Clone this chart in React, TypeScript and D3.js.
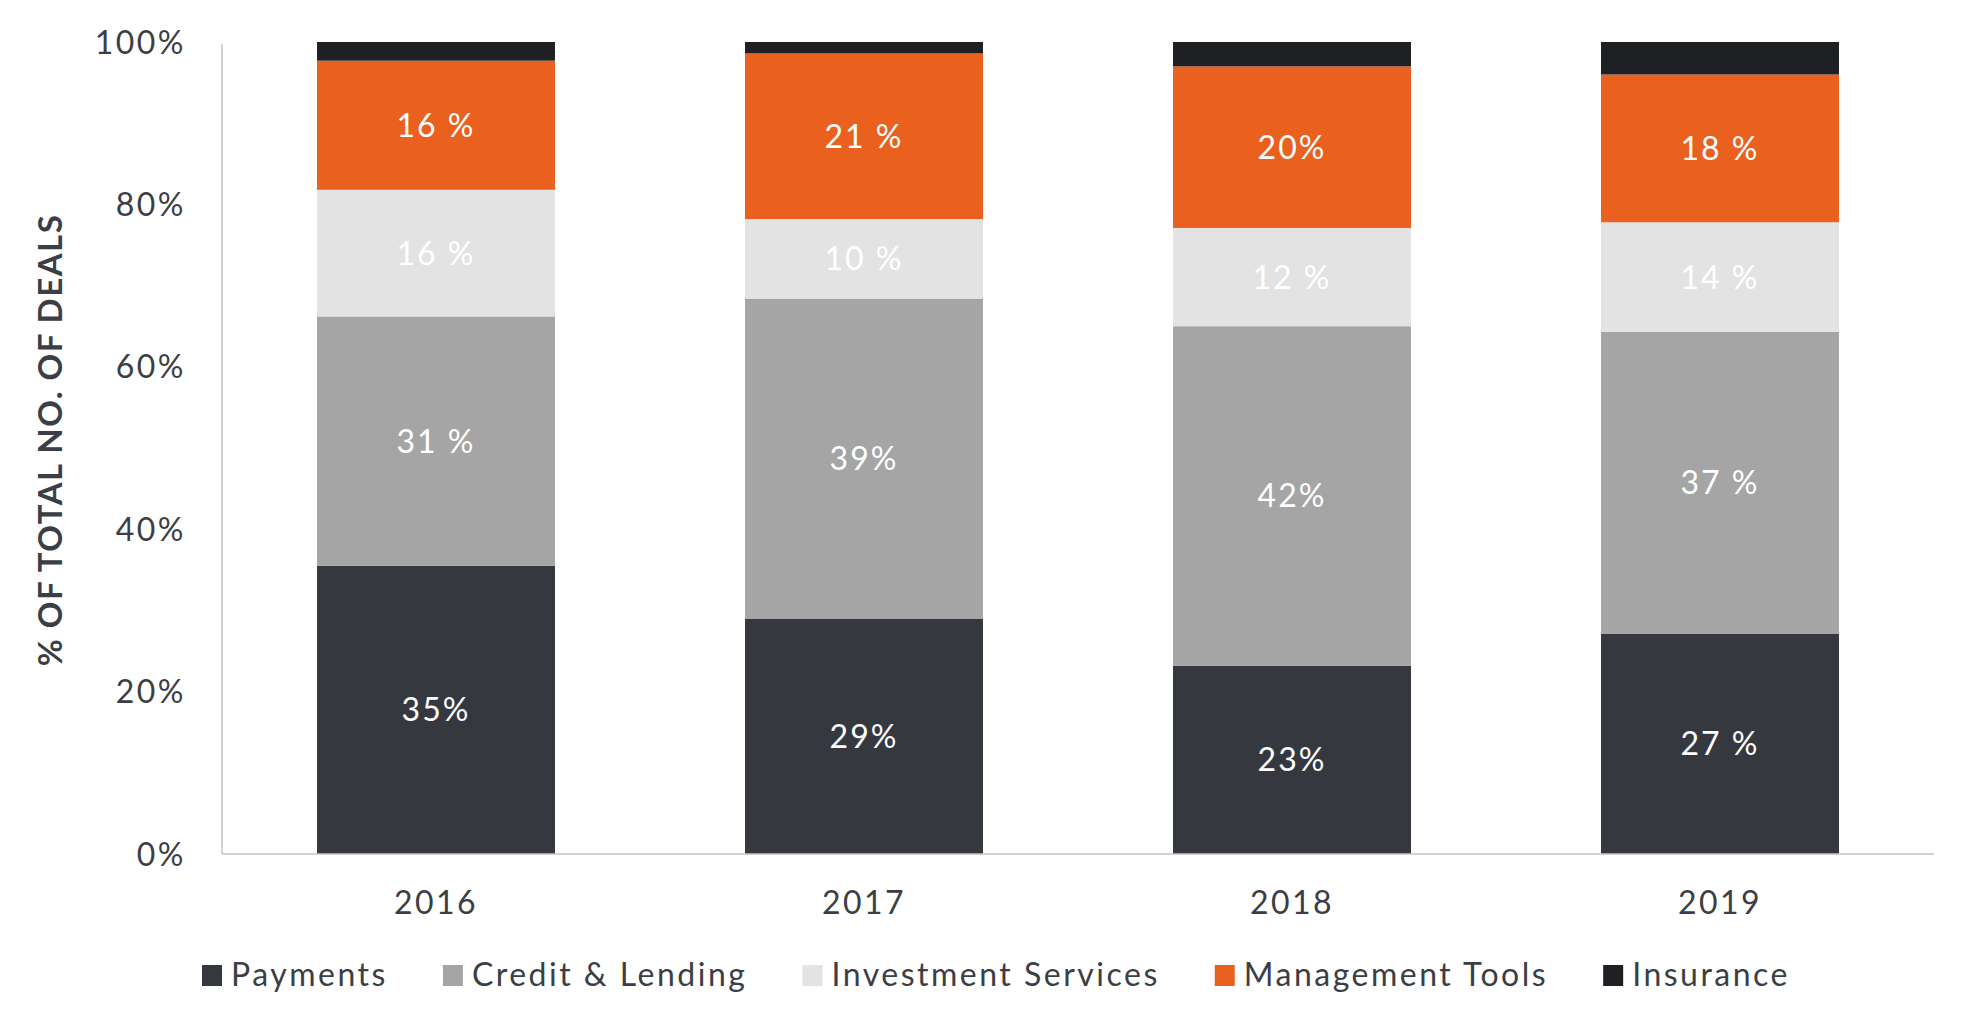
import { useEffect, useRef } from 'react'
import * as d3 from 'd3'

const years = ['2016', '2017', '2018', '2019']
const seriesNames = ['Payments', 'Credit & Lending', 'Investment Services', 'Management Tools', 'Insurance']
const seriesColors = ['#363840', '#a5a5a5', '#e3e3e3', '#ea601f', '#1f2024']

// share of deals per year (%)
const payments = [35.5, 29.0, 23.2, 27.1]
const creditLending = [30.7, 39.4, 41.8, 37.2]
const investmentServices = [15.6, 9.8, 12.1, 13.5]
const managementTools = [15.9, 20.4, 19.9, 18.2]
const insurance = [2.3, 1.4, 3.0, 4.0]

// printed labels inside the segments (insurance has none)
const paymentsLabels = ['35%', '29%', '23%', '27 %']
const creditLabels = ['31 %', '39%', '42%', '37 %']
const investmentLabels = ['16 %', '10 %', '12 %', '14 %']
const managementLabels = ['16 %', '21 %', '20%', '18 %']

const yTicks = [0, 0.2, 0.4, 0.6, 0.8, 1]

export default function App() {
  const svgRef = useRef<SVGSVGElement>(null)

  useEffect(() => {
    if (!svgRef.current) return
    const svg = d3.select(svgRef.current)
    svg.selectAll('*').remove()

    const width = 1982
    const height = 1014
    const margin = { top: 42, right: 48, bottom: 160, left: 222 }
    const font = 'Lato, "Noto Sans", sans-serif'
    const textColor = '#3b3e45'

    svg.attr('width', width).attr('height', height)

    const values = [payments, creditLending, investmentServices, managementTools, insurance]
    const labels = [paymentsLabels, creditLabels, investmentLabels, managementLabels, null]

    const rows = years.map((y, i) => {
      const row: any = { year: y }
      seriesNames.forEach((s, k) => { row[s] = values[k][i] / 100 })
      return row
    })
    const stacked = d3.stack().keys(seriesNames)(rows)

    const x = d3.scaleBand()
      .domain(years)
      .range([margin.left, width - margin.right])
      .paddingInner(0.444)
      .paddingOuter(0.222)

    const y = d3.scaleLinear()
      .domain([0, 1])
      .range([height - margin.bottom, margin.top])

    // bars
    stacked.forEach((layer, k) => {
      const g = svg.append('g').attr('fill', seriesColors[k])
      layer.forEach((d, i) => {
        g.append('rect')
          .attr('x', x(years[i])!)
          .attr('y', y(d[1]))
          .attr('width', x.bandwidth())
          .attr('height', y(d[0]) - y(d[1]))
      })
      const lab = labels[k]
      if (lab) {
        layer.forEach((d, i) => {
          svg.append('text')
            .attr('x', x(years[i])! + x.bandwidth() / 2)
            .attr('y', (y(d[0]) + y(d[1])) / 2)
            .attr('dy', '0.36em')
            .attr('text-anchor', 'middle')
            .style('font-family', font)
            .style('font-size', '32px')
            .style('letter-spacing', '2px')
            .style('fill', '#fff')
            .text(lab[i])
        })
      }
    })

    // axis lines
    svg.append('line')
      .attr('x1', margin.left).attr('x2', margin.left)
      .attr('y1', y(1) + 2).attr('y2', y(0))
      .attr('stroke', '#c4c4c4').attr('stroke-width', 1.5)
    svg.append('line')
      .attr('x1', margin.left).attr('x2', width - margin.right)
      .attr('y1', y(0)).attr('y2', y(0))
      .attr('stroke', '#c4c4c4').attr('stroke-width', 1.5)

    // y tick labels
    yTicks.forEach(t => {
      svg.append('text')
        .attr('x', 186)
        .attr('y', y(t))
        .attr('dy', '0.36em')
        .attr('text-anchor', 'end')
        .style('font-family', font)
        .style('font-size', '32px')
        .style('letter-spacing', '2.5px')
        .style('fill', textColor)
        .text(d3.format('.0%')(t))
    })

    // x labels
    years.forEach(yr => {
      svg.append('text')
        .attr('x', x(yr)! + x.bandwidth() / 2)
        .attr('y', 914)
        .attr('text-anchor', 'middle')
        .style('font-family', font)
        .style('font-size', '32px')
        .style('letter-spacing', '2.5px')
        .style('fill', textColor)
        .text(yr)
    })

    // y axis title
    svg.append('text')
      .attr('transform', `translate(62, ${(y(0) + y(1)) / 2 - 8}) rotate(-90)`)
      .attr('text-anchor', 'middle')
      .style('font-family', font)
      .style('font-size', '33px')
      .style('font-weight', 'bold')
      .style('letter-spacing', '1.5px')
      .style('fill', textColor)
      .text('% OF TOTAL NO. OF DEALS')

    // legend, centred on the page
    const legend = svg.append('g')
    const gap = 55
    let cx = 0
    seriesNames.forEach((name, k) => {
      const item = legend.append('g').attr('transform', `translate(${cx},0)`)
      item.append('rect')
        .attr('x', 0).attr('y', -21)
        .attr('width', 20).attr('height', 21)
        .attr('fill', seriesColors[k])
      const t = item.append('text')
        .attr('x', 29)
        .attr('y', 0)
        .style('font-family', font)
        .style('font-size', '32px')
        .style('letter-spacing', '2.5px')
        .style('fill', textColor)
        .text(name)
      const w = (t.node() as SVGTextElement).getComputedTextLength()
      cx += 29 + w + gap
    })
    const total = cx - gap
    legend.attr('transform', `translate(${width / 2 - total / 2 + 5},986)`)
  }, [])

  return (
    <svg
      ref={svgRef}
      style={{ position: 'absolute', left: 0, top: 0, display: 'block', background: '#fff' }}
    />
  )
}
